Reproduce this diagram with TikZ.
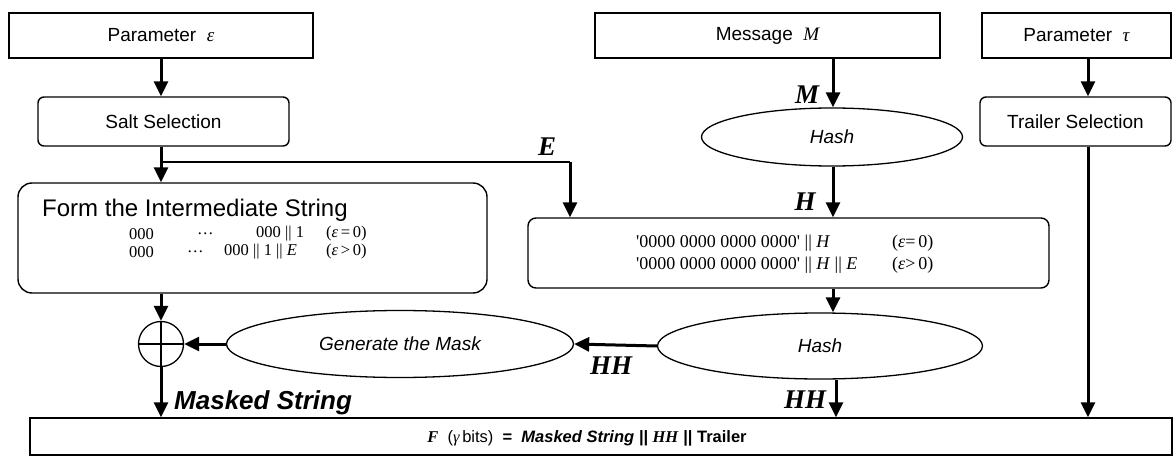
\documentclass[tikz,border=0pt]{standalone}
\usepackage{fontspec}
\setmainfont{Liberation Sans}
\newfontfamily\tms{Liberation Serif}[Ligatures=TeXOff]
\usetikzlibrary{arrows.meta,shapes.geometric}

\begin{document}
\begin{tikzpicture}[x=1pt,y=-1pt,
  font=\fontsize{19}{22}\selectfont,
  box/.style={draw,line width=1.4pt,inner sep=0pt,minimum height=45pt},
  rbox/.style={box,rounded corners=6pt,minimum height=49pt},
  oval/.style={draw,ellipse,line width=1.3pt,inner sep=0pt,font=\fontsize{19}{22}\selectfont\itshape},
  flow/.style={line width=3pt,-{Triangle[length=15pt,width=14pt]}},
  link/.style={line width=1.4pt},
  sym/.style={font=\fontsize{27}{30}\selectfont\tms\bfseries\itshape,inner sep=0pt},
  eqn/.style={font=\fontsize{16.5}{18}\selectfont\tms,inner sep=0pt,anchor=west},
  eqm/.style={font=\fontsize{18}{20}\selectfont\tms,inner sep=0pt,anchor=west}]

\useasboundingbox (0,0) rectangle (1175,457);

% columns used by the connectors
\coordinate (lx) at (161,0);
\coordinate (ex) at (570,0);
\coordinate (mx) at (833,0);
\coordinate (hx) at (836,0);
\coordinate (tx) at (1088,0);

% inputs
\node[box,minimum width=304pt] (pe) at (161,35.5) {Parameter\ \ {\tms\itshape ε}};
\node[box,minimum width=345pt] (msg) at (767.5,35.5) {Message\ \ {\tms\itshape M}};
\node[box,minimum width=189pt] (tau) at (1076.5,35.5) {Parameter\ \ {\tms\itshape τ}};

% selection steps
\node[rbox,minimum width=251pt] (salt) at (163.5,121.5) {Salt Selection};
\node[rbox,minimum width=191pt] (trl) at (1075.5,121.5) {Trailer Selection};

% hashing of the message
\node[oval,minimum width=261pt,minimum height=58pt] (h1) at (832,137) {Hash};

% intermediate string
\node[draw,line width=1.4pt,rounded corners=14pt,minimum width=469pt,minimum height=110pt] (form) at (252.5,238) {};
\node[anchor=west,inner sep=0pt,font=\fontsize{24}{28}\selectfont] (ftitle) at (42,210) {Form the Intermediate String};
\node[eqn] (fa1) at (129,234) {000};
\node[eqn] (fb1) at (197,234) {…};
\node[eqn] (fc1) at (256,234) {000 || 1};
\node[eqn] (fd1) at (326,234) {(\textit{ε}\,=\,0)};
\node[eqn] (fa2) at (129,252) {000};
\node[eqn] (fb2) at (187,252) {…};
\node[eqn] (fc2) at (224,252) {000 || 1 || \textit{E}};
\node[eqn] (fd2) at (326,252) {(\textit{ε}\,>\,0)};

% padded hash input
\node[draw,line width=1.4pt,rounded corners=8pt,minimum width=521pt,minimum height=70pt] (mid) at (788.5,253) {};
\node[eqm] (ma1) at (636,243) {'0000 0000 0000 0000' || \textit{H}};
\node[eqm] (mb1) at (892,243) {(\textit{ε}=\,0)};
\node[eqm] (ma2) at (636,265) {'0000 0000 0000 0000' || \textit{H} || \textit{E}};
\node[eqm] (mb2) at (892,265) {(\textit{ε}>\,0)};

% second hash, mask generation and XOR
\node[oval,minimum width=325pt,minimum height=66pt] (h2) at (820,346) {Hash};
\node[oval,minimum width=347pt,minimum height=67pt] (gm) at (400,344) {Generate the Mask};
\node[draw,circle,line width=1.3pt,minimum size=45pt,inner sep=0pt] (xor) at (161,344) {};

% output
\node[draw,line width=1.4pt,minimum width=1142pt,minimum height=37pt] (bot) at (601,436.5) {};
\node[inner sep=0pt,font=\fontsize{16.5}{19}\selectfont] (ftxt) at (587,438)
  {{\tms\bfseries\itshape F}\ \ ({\tms\itshape γ}\,bits)\ \ \textbf{=}\ \ \textbf{\textit{Masked String ||}}\ {\tms\bfseries\itshape HH}\ \textbf{|| Trailer}};

% connectors
\draw[flow] (lx |- pe.south) -- (lx |- salt.north);
\draw[flow] (lx |- salt.south) -- (lx |- form.north);
\coordinate (br) at (161,162);
\coordinate (ec) at (570,162);
\draw[link] (br) -- (ec);
\draw[flow] (ec) -- (ex |- mid.north);
\node[sym] (lE) at (547,147) {E};

\draw[flow] (mx |- msg.south) -- (mx |- h1.north);
\node[sym] (lM) at (807,95) {M};
\draw[flow] (mx |- h1.south) -- (mx |- mid.north);
\node[sym] (lH) at (805,202) {H};
\draw[flow] (mx |- mid.south) -- (mx |- h2.north);

\draw[flow] (h2.west) -- (gm.east);
\node[sym] (lHH1) at (611,366) {HH};
\draw[flow] (hx |- h2.south) -- (hx |- bot.north);
\node[sym] (lHH2) at (805,400) {HH};

\draw[flow] (gm.west) -- (xor.east);
\draw[flow] (lx |- form.south) -- (xor.north);
\draw[line width=2pt] (xor.north) -- (xor.south);
\draw[link] (xor.west) -- (xor.east);
\draw[flow] (xor.south) -- (lx |- bot.north);
\node[anchor=west,inner sep=0pt,font=\fontsize{26}{30}\selectfont\bfseries\itshape] (lms) at (174,403) {Masked String};

\draw[flow] (tx |- tau.south) -- (tx |- trl.north);
\draw[flow] (tx |- trl.south) -- (tx |- bot.north);
\end{tikzpicture}
\end{document}
